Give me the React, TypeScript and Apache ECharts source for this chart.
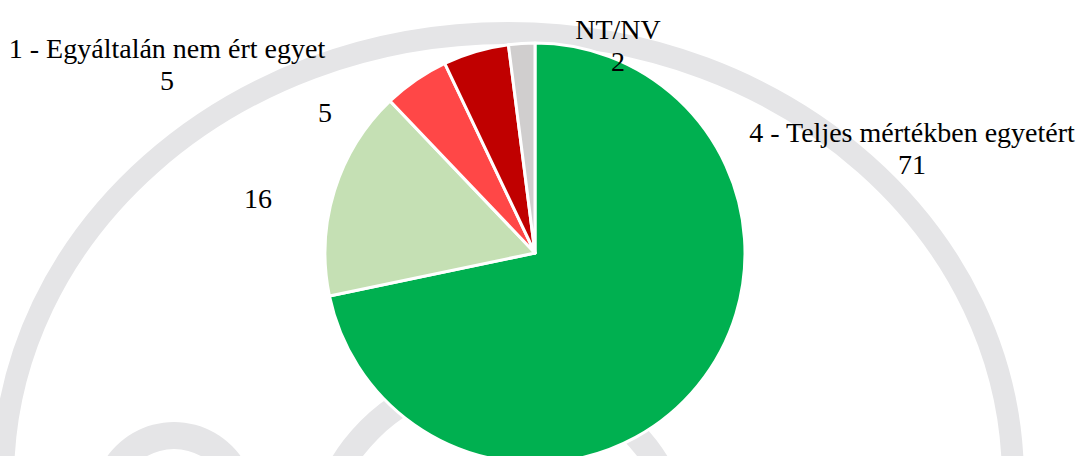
import React, { useEffect, useRef } from "react";
import * as echarts from "echarts";

const categories = [
  "4 - Teljes mértékben egyetért",
  "3",
  "2",
  "1 - Egyáltalán nem ért egyet",
  "NT/NV",
];
const values = [71, 16, 5, 5, 2];
const showCategoryName = [true, false, false, true, true];
const colors = ["#00B050", "#C5E0B4", "#FF4747", "#C00000", "#D0CECE"];

// label anchor positions (layout only)
const labelPos: [number, number][] = [
  [912, 148],
  [258, 198],
  [325, 112],
  [167, 64],
  [618, 45],
];

export default function App() {
  const ref = useRef<HTMLDivElement>(null);
  useEffect(() => {
    if (!ref.current) return;
    const chart = echarts.init(ref.current, undefined, { renderer: "svg" });
    const wm = "#E5E5E7";
    chart.setOption({
      animation: false,
      backgroundColor: "#ffffff",
      textStyle: { fontFamily: "'Liberation Serif', 'Times New Roman', serif" },
      graphic: [
        {
          type: "ellipse",
          z: 0,
          silent: true,
          shape: { cx: 508, cy: 480, rx: 505, ry: 447 },
          style: { fill: "none", stroke: wm, lineWidth: 22 },
        },
        {
          type: "ring",
          z: 0,
          silent: true,
          shape: { cx: 174, cy: 504, r: 82, r0: 55 },
          style: { fill: wm },
        },
        {
          type: "ring",
          z: 0,
          silent: true,
          shape: { cx: 500, cy: 560, r: 197, r0: 172 },
          style: { fill: wm },
        },
      ],
      series: [
        {
          type: "pie",
          z: 5,
          center: [535, 253],
          radius: 210,
          startAngle: 90,
          clockwise: true,
          avoidLabelOverlap: false,
          itemStyle: { borderColor: "#ffffff", borderWidth: 3 },
          label: {
            show: true,
            position: "outside",
            color: "#000000",
            fontFamily: "'Liberation Serif', 'Times New Roman', serif",
            fontSize: 28,
            lineHeight: 32,
            align: "center",
            formatter: (p: any) =>
              (showCategoryName[p.dataIndex] ? p.name + "\n" : "") + p.value,
          },
          labelLine: { show: false },
          labelLayout: (params: any) => {
            const pos = labelPos[params.dataIndex];
            return {
              x: pos[0],
              y: pos[1],
              align: "center",
              verticalAlign: "middle",
            };
          },
          emphasis: { disabled: true },
          data: categories.map((name, i) => ({
            name,
            value: values[i],
            itemStyle: { color: colors[i] },
          })),
        },
      ],
    });
    return () => chart.dispose();
  }, []);
  return (
    <div
      ref={ref}
      style={{
        position: "fixed",
        left: 0,
        top: 0,
        width: 1083,
        height: 456,
      }}
    />
  );
}
